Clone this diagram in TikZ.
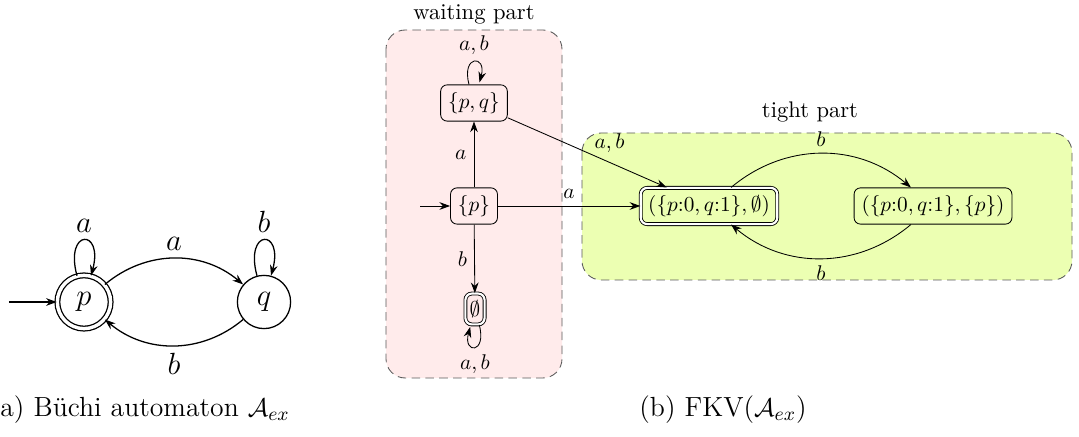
\documentclass[tikz,border=0pt]{standalone}
\usetikzlibrary{arrows.meta, positioning}
\tikzstyle{bstate}=[circle, draw, minimum size=25pt, inner sep=0pt]
\tikzstyle{bacc}=[bstate, double, double distance=1.6pt]
\tikzstyle{kstate}=[rectangle, rounded corners=3pt, draw, minimum height=17pt, inner xsep=3.5pt, inner ysep=2pt]
\tikzstyle{kacc}=[kstate, double, double distance=1pt]
\tikzstyle{part}=[draw=black!65, dash pattern=on 4pt off 2.5pt, rounded corners=9pt]
\tikzstyle{partlabel}=[font=\fontsize{10.6}{12}\selectfont]
\tikzstyle{arrow}=[->, >={Stealth[length=5pt, width=3.6pt]}]

\begin{document}
\begin{tikzpicture}[x=0.4695pt, y=0.4695pt]
  \useasboundingbox (0,0) rectangle (1079,-437);

  % the two parts of FKV
  \draw[part, fill=red!8] (386,-30) rectangle (562,-378);
  \draw[part, fill=lime!30] (582,-133) rectangle (1072,-280);
  \node[partlabel] (wlabel) at (474,-14) {waiting part};
  \node[partlabel] (tlabel) at (810,-112) {tight part};

  % (a) the Buchi automaton
  \begin{scope}[semithick, font=\fontsize{15}{18}\selectfont]
    \node[bacc] (p) at (84,-302) {$p$};
    \node[bstate] (q) at (264,-302) {$q$};
    \coordinate (pin) at (9,-302);
    \draw[arrow] (pin) -- (p);
    \path[arrow] (p) edge[loop above, min distance=23pt] node[above]{$a$} (p)
                 (q) edge[loop above, min distance=23pt] node[above]{$b$} (q);
    \draw[arrow] (p) to[bend left=40] node[above]{$a$} (q);
    \draw[arrow] (q) to[bend left=40] node[below]{$b$} (p);
  \end{scope}

  % (b) FKV
  \node[kstate] (pq) at (474,-103) {$\{p,q\}$};
  \node[kstate] (ps) at (474,-206) {$\{p\}$};
  \node[kacc, minimum height=14.5pt, inner xsep=2pt] (em) at (475,-309) {$\emptyset$};
  \node[kacc] (s1) at (709,-206) {$(\{p{:}0,q{:}1\},\emptyset)$};
  \node[kstate] (s2) at (933,-206) {$(\{p{:}0,q{:}1\},\{p\})$};
  \coordinate (psin) at (420,-206);

  \draw[arrow] (psin) -- (ps);
  \path[arrow] (pq) edge[loop above] node[above]{$a,b$} (pq)
               (em) edge[loop below] node[below]{$a,b$} (em);
  \draw[arrow] (ps) -- node[left]{$a$} (pq);
  \draw[arrow] (ps) -- node[left]{$b$} (em);
  \draw[arrow] (pq) -- node[pos=0.53, above right, inner sep=1pt]{$a,b$} (s1);
  \draw[arrow] (ps) -- node[above]{$a$} (s1);
  \draw[arrow] (s1) to[bend left=40] node[above]{$b$} (s2);
  \draw[arrow] (s2) to[bend left=40] node[below]{$b$} (s1);

  % captions
  \node[anchor=west, inner sep=0pt, font=\fontsize{13}{15}\selectfont] (capa) at (0,-410) {a) Büchi automaton $\mathcal{A}_{ex}$};
  \node[font=\fontsize{13}{15}\selectfont] (capb) at (723,-410) {(b) FKV($\mathcal{A}_{ex}$)};
\end{tikzpicture}
\end{document}
